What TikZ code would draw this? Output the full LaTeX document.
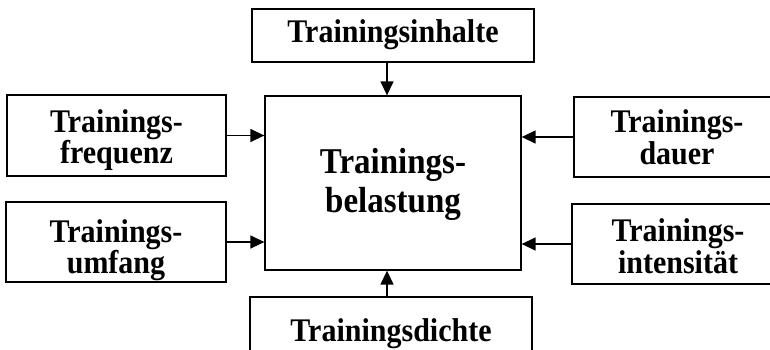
\documentclass[tikz,border=0pt]{standalone}
\usepackage{fontspec}
\usepackage{graphicx}
\setmainfont{Liberation Serif}
\usetikzlibrary{arrows.meta}
\newcommand{\tl}[1]{\scalebox{1}[1.1]{#1}}
\tikzset{
  box/.style={draw=black, line width=1.3pt, inner sep=0pt, fill=white},
  lbl/.style={inner sep=0pt, align=center, font=\bfseries\fontsize{30}{31.5}\selectfont},
  biglbl/.style={inner sep=0pt, align=center, font=\bfseries\fontsize{33}{39}\selectfont},
  arr/.style={line width=1.4pt, -{Triangle[length=14pt,width=13pt]}}
}
\begin{document}
\begin{tikzpicture}[x=1pt,y=-1pt]
\useasboundingbox (0,0) rectangle (770,349);
\clip (0,0) rectangle (770,349);
\fill[white] (0,0) rectangle (770,349);
% boxes
\node[box, minimum width=282pt, minimum height=53pt] (inh) at (393,35.5) {};
\node[box, minimum width=256pt, minimum height=174pt] (bel) at (393,183) {};
\node[box, minimum width=219pt, minimum height=81pt] (freq) at (116.5,135.5) {};
\node[box, minimum width=220pt, minimum height=80pt] (umf) at (116,242) {};
\node[box, minimum width=206pt, minimum height=80pt] (dau) at (677,137) {};
\node[box, minimum width=212pt, minimum height=80pt] (int) at (678,244) {};
\node[box, minimum width=282pt, minimum height=78pt] (dic) at (391,336) {};
% texts
\node[lbl] (tinh) at (393,35) {\tl{Trainingsinhalte}};
\node[biglbl] (tbel) at (393,184) {\tl{Trainings-}\\\tl{belastung}};
\node[lbl] (tfreq) at (116.5,140) {\tl{Trainings-}\\\tl{frequenz}};
\node[lbl] (tumf) at (116,250) {\tl{Trainings-}\\\tl{umfang}};
\node[lbl] (tdau) at (677,137) {\tl{Trainings-}\\\tl{dauer}};
\node[lbl] (tint) at (678,246) {\tl{Trainings-}\\\tl{intensität}};
\node[lbl] (tdic) at (391,333.5) {\tl{Trainingsdichte}};
% connectors
\coordinate (ax) at (387,0);
\draw[arr] (inh.south -| ax) -- (bel.north -| ax);
\draw[arr] (dic.north -| ax) -- (bel.south -| ax);
\draw[arr] (freq.east) -- (freq.east -| bel.west);
\draw[arr] (umf.east) -- (umf.east -| bel.west);
\draw[arr] (dau.west) -- (dau.west -| bel.east);
\draw[arr] (int.west) -- (int.west -| bel.east);
\end{tikzpicture}
\end{document}
